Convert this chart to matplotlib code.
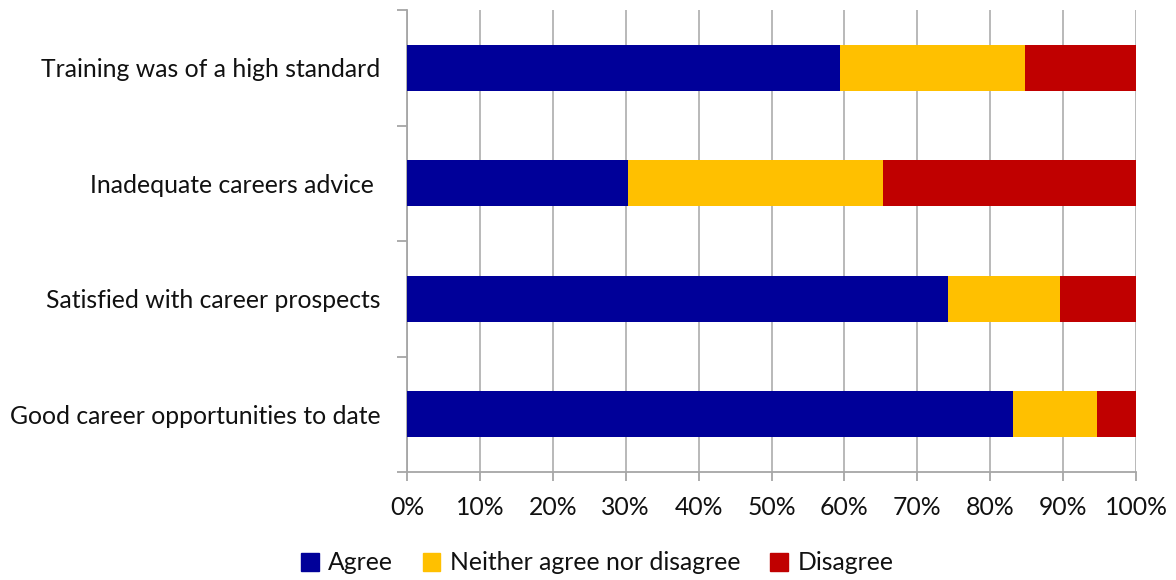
import matplotlib
matplotlib.use("Agg")
import matplotlib.pyplot as plt
from matplotlib.patches import Patch
from matplotlib.ticker import FixedLocator, PercentFormatter

categories = ["Training was of a high standard", "Inadequate careers advice ",
              "Satisfied with career prospects", "Good career opportunities to date"]
agree = [59.4, 30.3, 74.2, 83.1]
neither = [25.4, 35.0, 15.4, 11.6]
disagree = [15.2, 34.7, 10.4, 5.3]
series_names = ["Agree", "Neither agree nor disagree", "Disagree"]
colors = ["#000099", "#FFC000", "#C00000"]

plt.rcParams['font.family'] = ['Lato', 'DejaVu Sans']

fig = plt.figure(figsize=(11.76, 5.8), dpi=100)
ax = fig.add_axes([407/1176, 1-472/580, 729/1176, 462/580])

y = list(range(len(categories)))
left = [0]*len(categories)
for vals, name, c in zip([agree, neither, disagree], series_names, colors):
    ax.barh(y, vals, left=left, height=0.4, color=c, label=name, zorder=3)
    left = [l + v for l, v in zip(left, vals)]

ax.set_xlim(0, 100)
ax.set_ylim(len(categories)-0.5, -0.5)
ax.set_xticks(range(0, 101, 10))
ax.xaxis.set_major_formatter(PercentFormatter(decimals=0))
ax.grid(axis='x', color='#B3B3B3', linewidth=1.3, zorder=0)

ax.yaxis.set_major_locator(FixedLocator([i - 0.5 for i in range(len(categories)+1)]))
ax.yaxis.set_major_formatter(plt.NullFormatter())
ax.set_yticks(y, minor=True)
ax.set_yticklabels(categories, minor=True)
ax.tick_params(axis='y', which='major', length=7, color='#A6A6A6', width=1.3, direction='out')
ax.tick_params(axis='y', which='minor', length=0, pad=19, labelsize=17.8, labelcolor='#111111')
ax.tick_params(axis='x', length=6.5, color='#A6A6A6', width=1.3, direction='out', labelsize=17.8,
               labelcolor='#111111', pad=11)

for s in ['top', 'right']:
    ax.spines[s].set_visible(False)
for s in ['left', 'bottom']:
    ax.spines[s].set_color('#A6A6A6')
    ax.spines[s].set_linewidth(1.3)

handles = [Patch(color=c, label=n) for c, n in zip(colors, series_names)]
fig.legend(handles=handles, loc='center', bbox_to_anchor=(0.508, 1-563/580), ncol=3,
           frameon=False, fontsize=17.8, handlelength=0.7, handleheight=0.7,
           handletextpad=0.4, columnspacing=1.2, labelcolor='#111111')

fig.savefig("out.png", dpi=100)
